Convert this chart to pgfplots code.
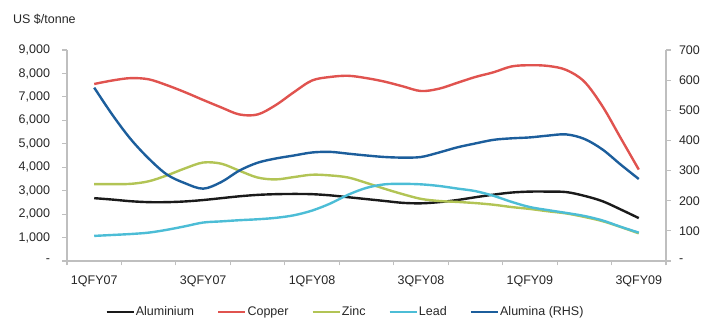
\documentclass[border=0pt]{standalone}
\usepackage{pgfplots}
\usepackage{pgfplotstable}
\usepackage{fontspec}
\pgfplotsset{compat=1.18}
\setmainfont{Liberation Sans}

\definecolor{axgray}{HTML}{BFBFBF}
\definecolor{txt}{HTML}{262626}
\definecolor{alu}{HTML}{1A1A1A}
\definecolor{cu}{HTML}{E0534F}
\definecolor{zn}{HTML}{B2C455}
\definecolor{pb}{HTML}{4CBDD6}
\definecolor{ala}{HTML}{1C5E9C}

% Monthly prices; m counts months from 1QFY07 (three per quarter)
% alu, cu, zn, pb in US$/tonne; ala (alumina) on the right-hand scale
\pgfplotstableread{
m  alu   cu    zn    pb    ala
0  2680  7550  3280  1070  575
1  2620  7700  3280  1110  485
2  2550  7800  3290  1150  405
3  2510  7750  3400  1210  340
4  2510  7500  3650  1330  287
5  2540  7200  3950  1480  258
6  2600  6870  4200  1640  240
7  2680  6550  4150  1690  262
8  2760  6250  3850  1740  300
9  2820  6250  3560  1780  326
10 2850  6650  3480  1840  340
11 2860  7200  3580  1950  350
12 2850  7700  3680  2150  360
13 2800  7850  3650  2450  362
14 2720  7900  3560  2830  356
15 2640  7800  3330  3120  350
16 2560  7650  3080  3270  345
17 2480  7450  2850  3290  343
18 2460  7250  2650  3270  345
19 2510  7350  2560  3200  360
20 2600  7600  2520  3090  377
21 2720  7850  2470  2980  390
22 2830  8050  2400  2780  402
23 2920  8300  2300  2520  407
24 2960  8350  2220  2300  410
25 2960  8320  2120  2170  416
26 2940  8150  2030  2050  420
27 2780  7650  1880  1920  405
28 2550  6600  1700  1730  370
29 2200  5250  1450  1460  320
30 1830  3900  1180  1210  272
}\prices

\pgfplotsset{
  every axis/.append style={
    width=599pt, height=211pt, scale only axis,
    xmin=-0.5, xmax=10.5,
    font=\fontsize{12.5}{15}\selectfont,
    tick label style={text=txt},
    /pgf/number format/assume math mode=true,
    axis line style={draw=axgray, line width=1.3pt, -},
    tick style={draw=axgray, line width=1.1pt},
    tick align=outside,
    major tick length=4.5pt,
  },
  series/.style={line width=2.4pt, smooth, tension=0.55, mark=none},
}

\begin{document}
\begin{tikzpicture}
\begin{axis}[
  name=ax,
  ymin=0, ymax=9000,
  axis x line*=bottom, axis y line*=left,
  xtick={-0.5,0.5,...,10.5}, xticklabels={},
  extra x ticks={0,2,4,6,8,10},
  extra x tick labels={1QFY07,3QFY07,1QFY08,3QFY08,1QFY09,3QFY09},
  extra x tick style={major tick length=0pt, xticklabel style={yshift=-11pt}},
  ytick={0,1000,...,9000},
  yticklabels={-,{1,000},{2,000},{3,000},{4,000},{5,000},{6,000},{7,000},{8,000},{9,000}},
  yticklabel style={xshift=-9pt},
  clip=false,
  legend columns=-1,
  legend style={
    at={(0.464,-0.2417)}, anchor=center, draw=none, fill=none,
    font=\fontsize{12.5}{15}\selectfont, text=txt,
    /tikz/every even column/.append style={column sep=22pt},
    nodes={inner sep=1pt},
  },
  legend image code/.code={\draw[#1] (0pt,0pt) -- (27pt,0pt);},
]
\addplot[series, alu] table[x expr=\thisrow{m}/3, y=alu] {\prices};
\addlegendentry{Aluminium}
\addplot[series, cu] table[x expr=\thisrow{m}/3, y=cu] {\prices};
\addlegendentry{Copper}
\addplot[series, zn] table[x expr=\thisrow{m}/3, y=zn] {\prices};
\addlegendentry{Zinc}
\addplot[series, pb] table[x expr=\thisrow{m}/3, y=pb] {\prices};
\addlegendentry{Lead}
\addlegendimage{series, ala}
\addlegendentry{Alumina (RHS)}
\node[anchor=west, text=txt, inner sep=0pt] at (rel axis cs:-0.0902,1.147) {US \$/tonne};
\end{axis}

\begin{axis}[
  ymin=0, ymax=700,
  axis x line=none, axis y line*=right,
  ytick={0,100,...,700},
  yticklabels={-,100,200,300,400,500,600,700},
  yticklabel style={xshift=5pt},
]
\addplot[series, ala] table[x expr=\thisrow{m}/3, y=ala] {\prices};
\end{axis}

\pgfresetboundingbox
\path[use as bounding box] ([shift={(-67pt,-61pt)}]ax.south west) rectangle ([shift={(38pt,50pt)}]ax.north east);
\end{tikzpicture}
\end{document}
